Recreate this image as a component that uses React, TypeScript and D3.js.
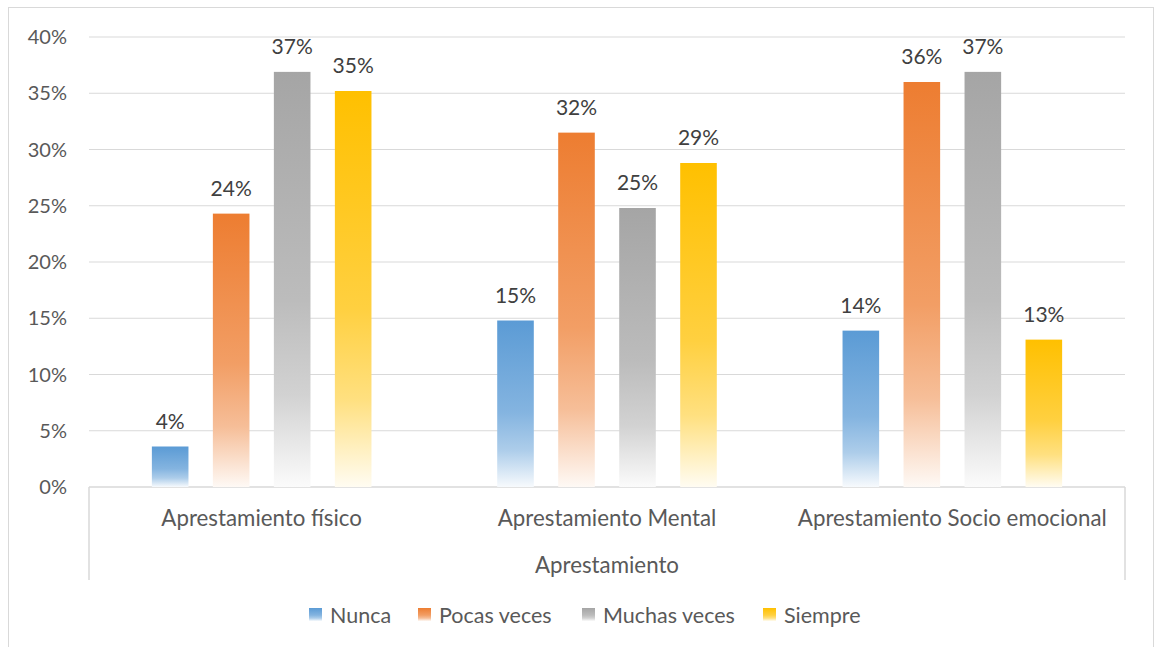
import React from "react";
import * as d3 from "d3";

const categories = ["Aprestamiento físico", "Aprestamiento Mental", "Aprestamiento Socio emocional"];
const seriesNames = ["Nunca", "Pocas veces", "Muchas veces", "Siempre"];
const seriesColors = ["#5b9bd5", "#ed7d31", "#a5a5a5", "#ffc000"];
const nunca = [0.036, 0.148, 0.139];
const pocas = [0.243, 0.315, 0.360];
const muchas = [0.369, 0.248, 0.369];
const siempre = [0.352, 0.288, 0.131];
const yTicks = [0, 0.05, 0.1, 0.15, 0.2, 0.25, 0.3, 0.35, 0.4];
const groupLabel = "Aprestamiento";

const W = 1156, H = 647;
const M = { left: 89, right: 1125, top: 37, bottom: 487 };
const FONT = "Lato, 'Open Sans', sans-serif";

export default function App() {
  const values = [nunca, pocas, muchas, siempre];
  const y = d3.scaleLinear().domain([0, 0.4]).range([M.bottom, M.top]);
  const x0 = d3.scaleBand<string>().domain(categories).range([M.left, M.right]).paddingInner(0).paddingOuter(0);
  const groupInner = 244;
  const x1 = d3.scaleBand<string>().domain(seriesNames).range([0, groupInner]).paddingInner(0.4).paddingOuter(0.2);
  const fmt = d3.format(".0%");
  const lighten = (c: string, t: number) => d3.interpolateRgb(c, "#ffffff")(t);
  const legendX = [309, 418, 582, 763];

  return (
    <svg width={W} height={H} style={{ position: "absolute", left: 0, top: 0, fontFamily: FONT }}>
      <defs>
        {seriesColors.map((c, i) => (
          <linearGradient key={i} id={`g${i}`} x1="0" y1="0" x2="0" y2="1">
            <stop offset="0" stopColor={c} />
            <stop offset="0.55" stopColor={lighten(c, 0.25)} />
            <stop offset="0.78" stopColor={lighten(c, 0.5)} />
            <stop offset="1" stopColor={lighten(c, 0.95)} />
          </linearGradient>
        ))}
      </defs>
      <rect x={0} y={0} width={W} height={H} fill="#fff" />
      <rect x={8.5} y={7.5} width={1145} height={H} fill="#fff" stroke="#d9d9d9" strokeWidth={1} />
      {yTicks.map((t) => (
        <g key={t}>
          {t > 0 && <line x1={M.left} x2={M.right} y1={y(t)} y2={y(t)} stroke="#d9d9d9" strokeWidth={1.2} />}
          <text x={67} y={y(t)} dy="0.35em" textAnchor="end" fontSize={20} fill="#595959">{fmt(t)}</text>
        </g>
      ))}
      <line x1={M.left} x2={M.right} y1={M.bottom} y2={M.bottom} stroke="#d9d9d9" strokeWidth={1.5} />
      <line x1={M.left} x2={M.left} y1={M.bottom} y2={580} stroke="#d9d9d9" strokeWidth={1.5} />
      <line x1={M.right} x2={M.right} y1={M.bottom} y2={580} stroke="#d9d9d9" strokeWidth={1.5} />
      {categories.map((cat, ci) => {
        const gx = x0(cat)! + (x0.bandwidth() - groupInner) / 2;
        return (
          <g key={cat}>
            {seriesNames.map((s, si) => {
              const v = values[si][ci];
              const bx = gx + x1(s)!;
              const bw = x1.bandwidth();
              return (
                <g key={s}>
                  <rect x={bx} y={y(v)} width={bw} height={M.bottom - y(v)} fill={`url(#g${si})`} />
                  <text x={bx + bw / 2} y={y(v) - 18} textAnchor="middle" fontSize={21} fill="#404040">{fmt(v)}</text>
                </g>
              );
            })}
            <text x={x0(cat)! + x0.bandwidth() / 2} y={518} dy="0.35em" textAnchor="middle" fontSize={22.3} fill="#595959">{cat}</text>
          </g>
        );
      })}
      <text x={(M.left + M.right) / 2} y={565} dy="0.35em" textAnchor="middle" fontSize={22.3} fill="#595959">{groupLabel}</text>
      {seriesNames.map((s, i) => (
        <g key={s}>
          <rect x={legendX[i]} y={608} width={13} height={13} fill={`url(#g${i})`} />
          <text x={legendX[i] + 21} y={615} dy="0.35em" fontSize={21.5} fill="#595959">{s}</text>
        </g>
      ))}
    </svg>
  );
}
